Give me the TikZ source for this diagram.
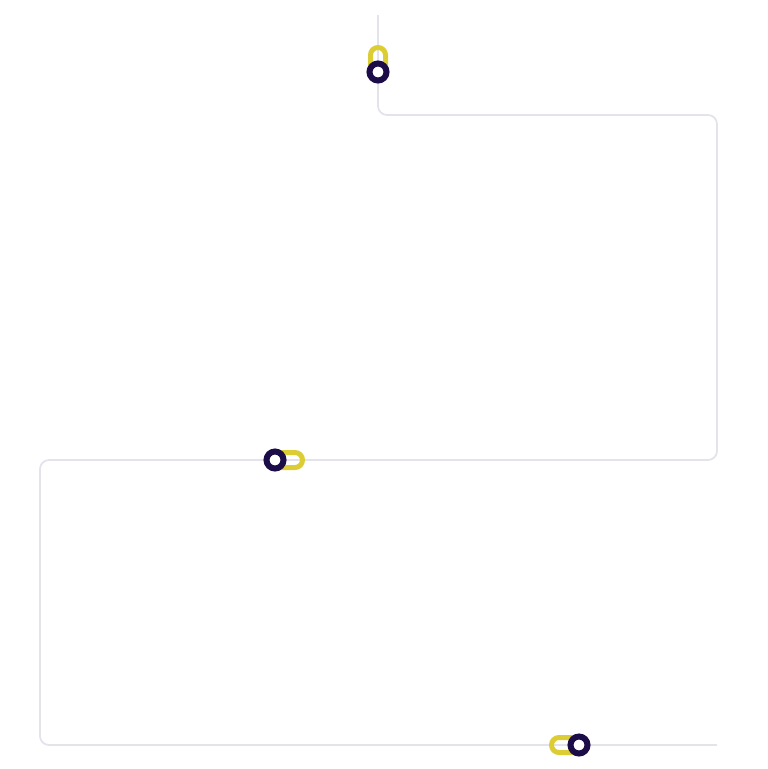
\documentclass[tikz,border=0pt]{standalone}
\definecolor{trackgrey}{HTML}{E4E3EB}
\definecolor{ringnavy}{HTML}{1C0C48}
\definecolor{pillyellow}{HTML}{DCCD35}
\tikzset{
  track/.style={draw=trackgrey, line width=1.8pt, rounded corners=9pt},
  ring/.style={circle, draw=ringnavy, line width=6pt, fill=white, minimum size=17pt, inner sep=0pt},
  pill/.style={draw=pillyellow, line width=5pt, rounded corners=7.5pt},
}
\begin{document}
\begin{tikzpicture}[x=1pt,y=-1pt]
\useasboundingbox (0,0) rectangle (768,769);
\coordinate (s) at (378,15);
\coordinate (c1) at (378,115);
\coordinate (c2) at (717,115);
\coordinate (c3) at (717,460);
\coordinate (c4) at (40,460);
\coordinate (c5) at (40,745);
\coordinate (e) at (717,745);
\draw[track] (s) -- (c1) -- (c2) -- (c3) -- (c4) -- (c5) -- (e);
% marker 1 (top)
\coordinate (m1) at (378,72);
\draw[pill] (370.5,72) -- (370.5,47.5) -- (385.5,47.5) -- (385.5,72);
\node[ring] (r1) at (m1) {};
% marker 2 (middle)
\coordinate (m2) at (275,460);
\draw[pill] (275,452.5) -- (302.5,452.5) -- (302.5,467.5) -- (275,467.5);
\node[ring] (r2) at (m2) {};
% marker 3 (bottom)
\coordinate (m3) at (579,745);
\draw[pill] (579,737.5) -- (551.5,737.5) -- (551.5,752.5) -- (579,752.5);
\node[ring] (r3) at (m3) {};
\end{tikzpicture}
\end{document}
